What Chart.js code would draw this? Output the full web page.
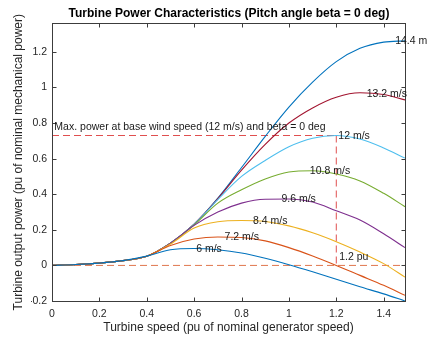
<!DOCTYPE html>
<html>
<head>
<meta charset="utf-8">
<script src="https://cdn.jsdelivr.net/npm/chart.js@4.4.0/dist/chart.umd.min.js"></script>
<style>
  html, body { margin: 0; padding: 0; background: #fff; }
</style>
</head>
<body>
<canvas id="myChart" width="427" height="338"></canvas>
<script>
// turbine speed (pu) sample points
var speed = [0, 0.1, 0.2, 0.3, 0.4, 0.5, 0.6, 0.7, 0.8, 0.9, 1.0, 1.1, 1.2, 1.3, 1.4, 1.49];

// turbine output power (pu) for each wind speed
var p6   = [0, 0.005, 0.013, 0.027, 0.052, 0.088, 0.095, 0.088, 0.07, 0.04, 0.004, -0.036, -0.078, -0.12, -0.16, -0.2];
var p72  = [0, 0.005, 0.013, 0.027, 0.052, 0.112, 0.148, 0.16, 0.157, 0.138, 0.1, 0.053, 0.0, -0.056, -0.112, -0.168];
var p84  = [0, 0.005, 0.013, 0.027, 0.052, 0.12, 0.21, 0.245, 0.252, 0.247, 0.222, 0.183, 0.133, 0.075, 0.01, -0.066];
var p96  = [0, 0.005, 0.013, 0.027, 0.052, 0.125, 0.225, 0.3, 0.35, 0.372, 0.373, 0.356, 0.307, 0.255, 0.178, 0.1];
var p108 = [0, 0.005, 0.013, 0.027, 0.052, 0.125, 0.228, 0.35, 0.425, 0.486, 0.525, 0.532, 0.514, 0.475, 0.405, 0.33];
var p12  = [0, 0.005, 0.013, 0.027, 0.052, 0.125, 0.23, 0.37, 0.5, 0.59, 0.667, 0.715, 0.73, 0.71, 0.66, 0.603];
var p132 = [0, 0.005, 0.013, 0.027, 0.052, 0.125, 0.232, 0.375, 0.535, 0.68, 0.8, 0.885, 0.945, 0.97, 0.96, 0.93];
var p144 = [0, 0.005, 0.013, 0.027, 0.052, 0.125, 0.232, 0.378, 0.55, 0.725, 0.89, 1.03, 1.145, 1.22, 1.255, 1.262];

var windLabels = ['6 m/s', '7.2 m/s', '8.4 m/s', '9.6 m/s', '10.8 m/s', '12 m/s', '13.2 m/s', '14.4 m/s'];
// where each wind speed label sits (at the curve maximum)
var labelSpeed = [0.6, 0.72, 0.84, 0.96, 1.08, 1.2, 1.32, 1.44];
var labelPower = [0.093, 0.158, 0.248, 0.37, 0.528, 0.724, 0.965, 1.258];

var baseSpeed = 1.2;    // pu
var basePower = 0.73;   // pu, max power at 12 m/s

var xTicks = [0, 0.2, 0.4, 0.6, 0.8, 1, 1.2, 1.4];
var xTickLabels = ['0', '0.2', '0.4', '0.6', '0.8', '1', '1.2', '1.4'];
var yTicks = [-0.2, 0, 0.2, 0.4, 0.6, 0.8, 1, 1.2];
var yTickLabels = ['-0.2', '0', '0.2', '0.4', '0.6', '0.8', '1', '1.2'];

var colors = ['#0072BD', '#D95319', '#EDB120', '#7E2F8E', '#77AC30', '#4DBEEE', '#A2142F', '#0072BD'];
var series = [p6, p72, p84, p96, p108, p12, p132, p144];

var FONT = '"Liberation Sans", Arial, Helvetica, sans-serif';

function pts(xs, ys) {
    return xs.map(function (x, i) { return {x: x, y: ys[i]}; });
}

var datasets = series.map(function (s, i) {
    return {
        label: windLabels[i],
        data: pts(speed, s),
        borderColor: colors[i],
        borderWidth: 1.1,
        pointRadius: 0,
        fill: false,
        cubicInterpolationMode: 'monotone'
    };
});

// dashed guide lines
datasets.push({
    data: pts([0, speed[speed.length - 1]], [0, 0]),
    borderColor: '#E0764E', borderWidth: 1, borderDash: [7, 4], pointRadius: 0, tension: 0
});
datasets.push({
    data: pts([0, baseSpeed], [basePower, basePower]),
    borderColor: '#E04F4F', borderWidth: 1, borderDash: [7, 4], pointRadius: 0, tension: 0
});
datasets.push({
    data: pts([baseSpeed, baseSpeed], [basePower, 0]),
    borderColor: '#E04F4F', borderWidth: 1, borderDash: [7, 4], pointRadius: 0, tension: 0
});

/* box, inward ticks and text labels, matlab style */
var matlabAxes = {
    id: 'matlabAxes',
    afterDatasetsDraw: function (chart) {
        var ctx = chart.ctx, a = chart.chartArea;
        var xs = chart.scales.x, ys = chart.scales.y;
        var L = Math.round(a.left) + 0.5, R = Math.round(a.right) + 0.5;
        var T = Math.round(a.top) + 0.5, B = Math.round(a.bottom) + 0.5;
        ctx.save();
        ctx.strokeStyle = '#3c3c3c';
        ctx.lineWidth = 1;
        ctx.strokeRect(L, T, R - L, B - T);
        ctx.beginPath();
        xTicks.forEach(function (v) {
            var px = Math.round(xs.getPixelForValue(v)) + 0.5;
            ctx.moveTo(px, B); ctx.lineTo(px, B - 4);
            ctx.moveTo(px, T); ctx.lineTo(px, T + 4);
        });
        yTicks.forEach(function (v) {
            var py = Math.round(ys.getPixelForValue(v)) + 0.5;
            ctx.moveTo(L, py); ctx.lineTo(L + 4, py);
            ctx.moveTo(R, py); ctx.lineTo(R - 4, py);
        });
        ctx.stroke();

        ctx.fillStyle = '#1a1a1a';
        ctx.font = '10.5px ' + FONT;
        ctx.textAlign = 'left';
        ctx.textBaseline = 'middle';
        labelSpeed.forEach(function (x, i) {
            ctx.fillText(windLabels[i], xs.getPixelForValue(x) + 2, ys.getPixelForValue(labelPower[i]));
        });
        ctx.fillText('Max. power at base wind speed (12 m/s) and beta = 0 deg',
            xs.getPixelForValue(0.01), ys.getPixelForValue(0.775));
        ctx.fillText('1.2 pu', xs.getPixelForValue(1.212), ys.getPixelForValue(0.047));
        ctx.restore();
    }
};

var ctx = document.getElementById('myChart').getContext('2d');
var chart = new Chart(ctx, {
    type: 'line',
    data: { datasets: datasets },
    plugins: [matlabAxes],
    options: {
        responsive: false,
        animation: false,
        events: [],
        // left padding keeps the title centred over the plot box
        layout: { padding: { left: 31, right: 0, top: 0, bottom: 0 } },
        plugins: {
            legend: { display: false },
            tooltip: { enabled: false },
            title: {
                display: true,
                text: 'Turbine Power Characteristics (Pitch angle beta = 0 deg)',
                color: '#000',
                font: { family: FONT, size: 12, weight: 'bold' },
                padding: { top: 6, bottom: 3 }
            }
        },
        scales: {
            x: {
                type: 'linear',
                min: 0,
                max: 1.49,
                grid: { display: false, drawTicks: false },
                border: { display: false },
                afterBuildTicks: function (scale) {
                    scale.ticks = xTicks.map(function (v) { return {value: v}; });
                },
                afterFit: function (scale) { scale.height = 37; },
                ticks: {
                    padding: 7,
                    maxRotation: 0,
                    color: '#262626',
                    font: { family: FONT, size: 10.5 },
                    callback: function (v, i) { return xTickLabels[i]; }
                },
                title: {
                    display: true,
                    text: 'Turbine speed (pu of nominal generator speed)',
                    color: '#262626',
                    font: { family: FONT, size: 12 },
                    padding: { top: 0, bottom: 3 }
                }
            },
            y: {
                min: -0.2,
                max: 1.36,
                grid: { display: false, drawTicks: false },
                border: { display: false },
                afterBuildTicks: function (scale) {
                    scale.ticks = yTicks.map(function (v) { return {value: v}; });
                },
                afterFit: function (scale) { scale.width = 21; },
                ticks: {
                    padding: 5,
                    color: '#262626',
                    font: { family: FONT, size: 10.5 },
                    callback: function (v, i) { return yTickLabels[i]; }
                },
                title: {
                    display: true,
                    text: 'Turbine output power (pu of nominal mechanical power)',
                    color: '#262626',
                    font: { family: FONT, size: 12 },
                    padding: { top: -20, bottom: 0 }
                }
            },
            // empty right axis, only reserves the margin right of the box
            yRight: {
                position: 'right',
                grid: { display: false, drawTicks: false },
                border: { display: false },
                ticks: { display: false },
                afterFit: function (scale) { scale.width = 22; }
            }
        }
    }
});
</script>
</body>
</html>
